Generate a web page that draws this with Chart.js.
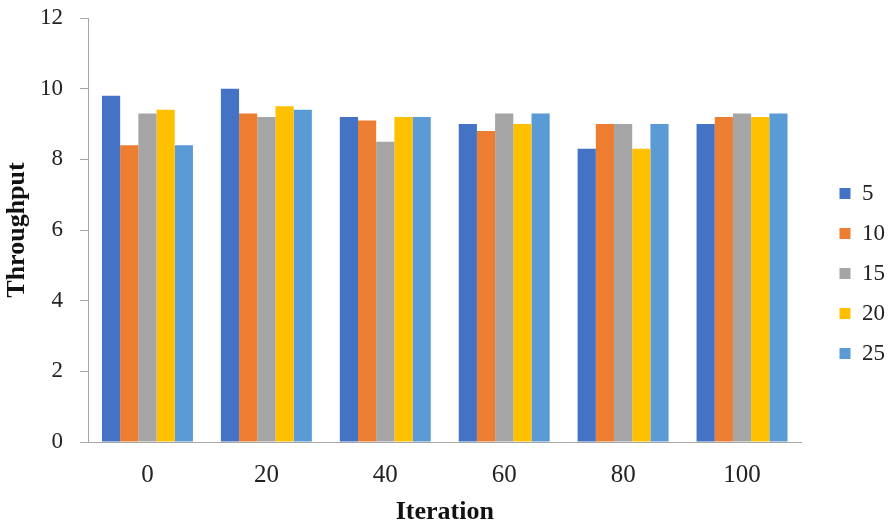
<!DOCTYPE html>
<html>
<head>
<meta charset="utf-8">
<script src="https://cdn.jsdelivr.net/npm/chart.js@4/dist/chart.umd.min.js"></script>
<style>
  html, body { margin: 0; padding: 0; background: #fff; }
  #chart { display: block; }
</style>
</head>
<body>
<canvas id="chart" width="892" height="525"></canvas>
<script>
// categories (iteration)
const iterations = ["0", "20", "40", "60", "80", "100"]

// series values
const s5 = [9.8, 10.0, 9.2, 9.0, 8.3, 9.0]
const s10 = [8.4, 9.3, 9.1, 8.8, 9.0, 9.2]
const s15 = [9.3, 9.2, 8.5, 9.3, 9.0, 9.3]
const s20 = [9.4, 9.5, 9.2, 9.0, 8.3, 9.2]
const s25 = [8.4, 9.4, 9.2, 9.3, 9.0, 9.3]

const seriesNames = ["5", "10", "15", "20", "25"]
const seriesColors = ["#4472C4", "#ED7D31", "#A5A5A5", "#FFC000", "#5B9BD5"]
const seriesData = [s5, s10, s15, s20, s25]

// y axis ticks
const yMin = 0
const yMax = 12
const yStep = 2

const serif = "'Liberation Serif', 'Times New Roman', serif"
const axisGrey = "#a6a6a6"

const ctx = document.getElementById("chart").getContext("2d")

new Chart(ctx, {
  type: "bar",
  data: {
    labels: iterations,
    datasets: seriesNames.map((name, i) => ({
      label: name,
      data: seriesData[i],
      backgroundColor: seriesColors[i],
      borderWidth: 0,
      categoryPercentage: 0.765,
      barPercentage: 1.0,
    })),
  },
  options: {
    responsive: false,
    animation: false,
    layout: {
      padding: { top: 0, right: -3, bottom: 0, left: 2 },
    },
    plugins: {
      tooltip: { enabled: false },
      legend: {
        position: "right",
        // empty title only nudges the items down a little
        title: { display: true, text: " ", font: { size: 10 }, padding: { top: 5, bottom: 5 } },
        labels: {
          boxWidth: 11,
          boxHeight: 11,
          padding: 17,
          color: "#222",
          font: { family: serif, size: 23 },
        },
      },
    },
    scales: {
      x: {
        grid: { display: false, tickLength: 8 },
        border: { display: true, color: axisGrey, width: 1 },
        ticks: {
          color: "#222",
          padding: 10,
          font: { family: serif, size: 25 },
        },
        title: {
          display: true,
          text: "Iteration",
          color: "#111",
          padding: { top: 7, bottom: 0 },
          font: { family: serif, size: 26, weight: "bold", lineHeight: 1 },
        },
        afterFit: (scale) => {
          scale.height = 83
        },
      },
      y: {
        min: yMin,
        max: yMax,
        grid: {
          drawOnChartArea: false,
          drawTicks: true,
          tickLength: 8,
          color: axisGrey,
        },
        border: { display: true, color: axisGrey, width: 1 },
        ticks: {
          stepSize: yStep,
          color: "#222",
          padding: 17,
          font: { family: serif, size: 23 },
        },
        title: {
          display: true,
          text: "Throughput",
          color: "#111",
          padding: { top: 0, bottom: 7 },
          font: { family: serif, size: 26, weight: "bold" },
        },
        afterFit: (scale) => {
          scale.width = 86
          scale.paddingTop = 18
        },
      },
      // blank axis on the right, keeps a gap between the bars and the legend
      gap: {
        position: "right",
        display: true,
        grid: { display: false },
        border: { display: false },
        ticks: { display: false },
        afterFit: (scale) => {
          scale.width = 21
        },
      },
    },
  },
})
</script>
</body>
</html>
